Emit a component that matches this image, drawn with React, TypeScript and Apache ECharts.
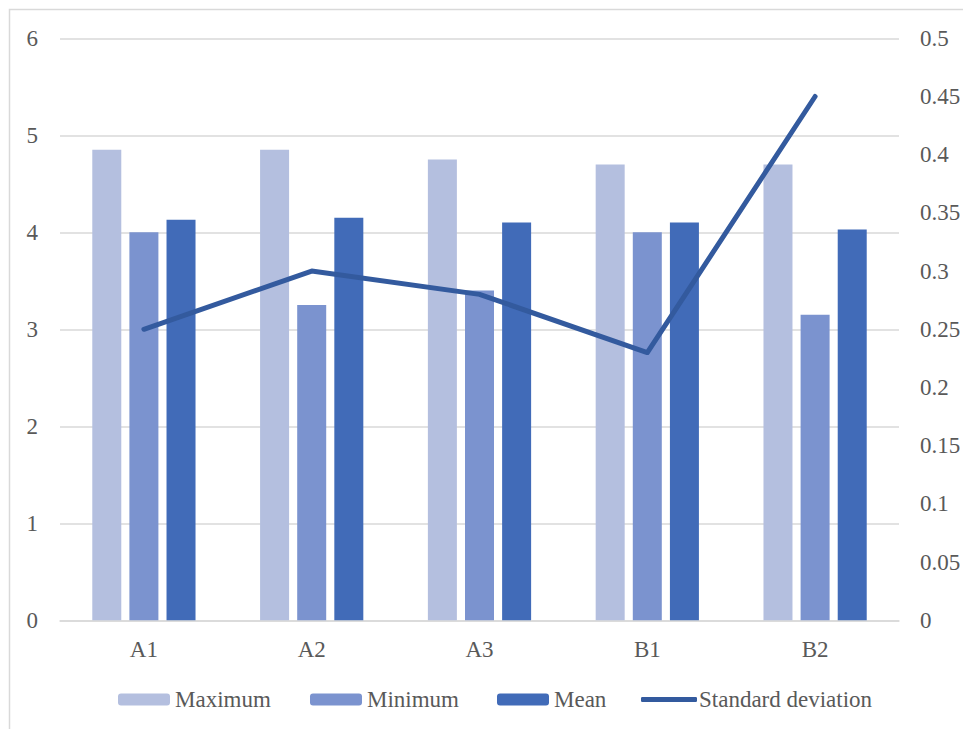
import React, { useEffect, useRef } from "react";
import * as echarts from "echarts";

const categories = ["A1", "A2", "A3", "B1", "B2"];
const maximumValues = [4.85, 4.85, 4.75, 4.7, 4.7];
const minimumValues = [4.0, 3.25, 3.4, 4.0, 3.15];
const meanValues = [4.13, 4.15, 4.1, 4.1, 4.03];
const stdValues = [0.25, 0.3, 0.28, 0.23, 0.45];

const FONT = "Liberation Serif";
const TEXT = "#595959";
const GRID = "#d9d9d9";
const FS = 23;

export default function App() {
  const ref = useRef<HTMLDivElement>(null);
  useEffect(() => {
    document.documentElement.style.overflow = "hidden";
    const chart = echarts.init(ref.current!, null, { renderer: "svg" });
    const legendText = { color: TEXT, fontFamily: FONT, fontSize: FS };
    const mkLegend = (name: string, left: number) => ({
      show: true,
      left,
      top: 675,
      orient: "horizontal",
      itemWidth: 52,
      itemHeight: 12,
      itemGap: 0,
      textStyle: legendText,
      data: [{ name }],
    });
    chart.setOption({
      animation: false,
      backgroundColor: "#ffffff",
      textStyle: { fontFamily: FONT },
      graphic: [
        {
          type: "rect",
          shape: { x: 1.5, y: 1.5, width: 3000, height: 3000 },
          style: { fill: "none", stroke: GRID, lineWidth: 1.5 },
          silent: true,
        },
      ],
      grid: { left: 52, right: 72, top: 30.3, bottom: 108.7, containLabel: false },
      legend: [
        mkLegend("Maximum", 105),
        mkLegend("Minimum", 297),
        mkLegend("Mean", 484),
        {
          show: true,
          left: 628,
          top: 675,
          itemWidth: 56,
          itemHeight: 5,
          itemGap: 0,
          textStyle: { ...legendText, padding: [0, 0, 0, -3] },
          data: [{ name: "Standard deviation", icon: "roundRect" }],
        },
      ],
      xAxis: {
        type: "category",
        data: categories,
        axisLine: { lineStyle: { color: GRID, width: 1.5 } },
        axisTick: { show: false },
        axisLabel: { color: TEXT, fontFamily: FONT, fontSize: FS, margin: 18 },
      },
      yAxis: [
        {
          type: "value",
          min: 0,
          max: 6,
          interval: 1,
          position: "left",
          axisLine: { show: false },
          axisTick: { show: false },
          splitLine: { lineStyle: { color: GRID, width: 1.5 } },
          axisLabel: { color: TEXT, fontFamily: FONT, fontSize: FS, margin: 22 },
        },
        {
          type: "value",
          min: 0,
          max: 0.5,
          interval: 0.05,
          position: "right",
          axisLine: { show: false },
          axisTick: { show: false },
          splitLine: { show: false },
          axisLabel: {
            color: TEXT,
            fontFamily: FONT,
            fontSize: FS,
            margin: 21,
            formatter: (v: number) => String(Math.round(v * 100) / 100),
          },
        },
      ],
      series: [
        {
          name: "Maximum",
          type: "bar",
          data: maximumValues,
          barWidth: 29,
          barGap: "28%",
          itemStyle: { color: "#b4bfdf" },
        },
        {
          name: "Minimum",
          type: "bar",
          data: minimumValues,
          barWidth: 29,
          barGap: "28%",
          itemStyle: { color: "#7b93cf" },
        },
        {
          name: "Mean",
          type: "bar",
          data: meanValues,
          barWidth: 29,
          barGap: "28%",
          itemStyle: { color: "#416bb8" },
        },
        {
          name: "Standard deviation",
          type: "line",
          yAxisIndex: 1,
          data: stdValues,
          symbol: "none",
          lineStyle: { color: "#335a9e", width: 5, cap: "round", join: "round" },
          itemStyle: { color: "#335a9e" },
          z: 5,
        },
      ],
    });
    return () => chart.dispose();
  }, []);
  return <div ref={ref} style={{ width: 963, height: 721 }} />;
}
